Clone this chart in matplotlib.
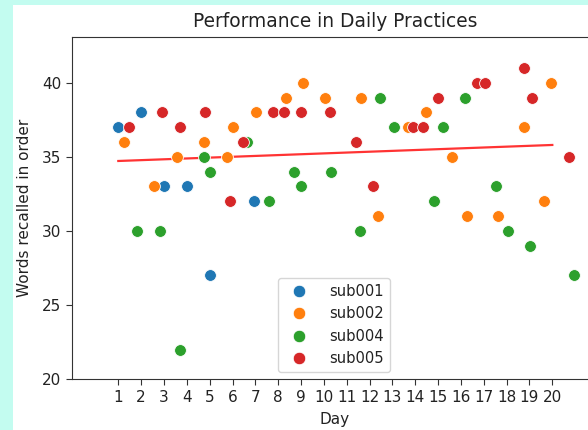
import matplotlib
matplotlib.use("Agg")
import matplotlib.pyplot as plt
from matplotlib.patches import Rectangle
from matplotlib.lines import Line2D

subjects = ["sub001", "sub002", "sub004", "sub005"]
colors = ["#1f77b4", "#ff7f0e", "#2ca02c", "#d62728"]

sub001_x = [1, 2, 3, 4, 5, 6.95]
sub001_y = [37, 38, 33, 33, 27, 32]

sub002_x = [1.25, 2.55, 3.58, 4.75, 5.75, 6.0, 7.02, 8.35, 9.09, 10.05,
            11.63, 12.39, 13.7, 14.46, 15.63, 16.26, 17.62, 18.78, 19.62, 19.95]
sub002_y = [36, 33, 35, 36, 35, 37, 38, 39, 40, 39,
            39, 31, 37, 38, 35, 31, 31, 37, 32, 40]

sub004_x = [1.8, 2.83, 3.7, 4.77, 5.02, 6.65, 7.59, 8.67, 9.02, 10.33,
            11.56, 12.46, 13.08, 14.8, 15.22, 16.16, 17.54, 18.04, 19.03, 20.93]
sub004_y = [30, 30, 22, 35, 34, 36, 32, 34, 33, 34,
            30, 39, 37, 32, 37, 39, 33, 30, 29, 27]

sub005_x = [1.47, 2.9, 3.72, 4.81, 5.9, 6.45, 7.76, 8.27, 9.02, 10.27,
            11.41, 12.17, 13.88, 14.33, 14.99, 16.72, 17.06, 18.78, 19.13, 20.71]
sub005_y = [37, 38, 37, 38, 32, 36, 38, 38, 38, 38,
            36, 33, 37, 37, 39, 40, 40, 41, 39, 35]

trend_x = [1, 20]
trend_y = [34.72, 35.8]

xticks = list(range(1, 21))
yticks = [20, 25, 30, 35, 40]

W, H = 588, 430
fig = plt.figure(figsize=(W / 100, H / 100), dpi=100)
fig.patch.set_facecolor("#C3FCF0")
fig.add_artist(Rectangle((13 / W, 0), 1, 1 - 5 / H, transform=fig.transFigure,
                         facecolor="white", edgecolor="none", zorder=0))

left, right = 71.7 / W, 598 / W
bottom, top = 1 - 379.3 / H, 1 - 36.7 / H
ax = fig.add_axes([left, bottom, right - left, top - bottom])
ax.set_facecolor("white")

series = [(sub001_x, sub001_y), (sub002_x, sub002_y),
          (sub004_x, sub004_y), (sub005_x, sub005_y)]
for (xs, ys), c, name in zip(series, colors, subjects):
    ax.scatter(xs, ys, s=72, color=c, edgecolor="white", linewidth=0.6,
               label=name, zorder=3)

ax.plot(trend_x, trend_y, color="red", lw=1.6, alpha=0.8, zorder=2)

ax.set_xlim(-1.04, 22.0)
ax.set_ylim(20, 43.1)
ax.set_xticks(xticks)
ax.set_xticklabels([str(t) for t in xticks])
ax.set_yticks(yticks)
ax.tick_params(labelsize=11, length=4, color="#333333", labelcolor="#222222")
for sp in ax.spines.values():
    sp.set_color("#333333")

ax.set_title("Performance in Daily Practices", fontsize=13.4, pad=7, color="#222222")
ax.set_xlabel("Day", fontsize=11, labelpad=5, color="#222222")
ax.set_ylabel("Words recalled in order", fontsize=11, labelpad=7, color="#222222")

handles = [Line2D([], [], marker="o", ls="none", markersize=9, color=c,
                  markeredgecolor="white", markeredgewidth=0.6) for c in colors]
leg = ax.legend(handles, subjects, loc="lower left",
                bbox_to_anchor=(278 / W, 1 - 372 / H),
                bbox_transform=fig.transFigure, borderaxespad=0,
                fontsize=10.6, handletextpad=1.1)
for t in leg.get_texts():
    t.set_color("#222222")

fig.savefig("out.png", dpi=100, facecolor=fig.get_facecolor())
